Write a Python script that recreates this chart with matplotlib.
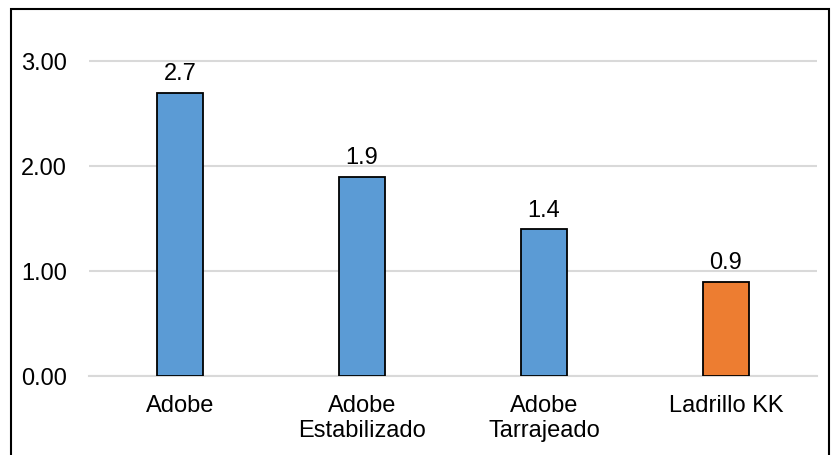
import matplotlib.pyplot as plt
from matplotlib.patches import Rectangle

plt.rcParams['font.family'] = ['Liberation Sans', 'DejaVu Sans']

materials = ['Adobe', 'Adobe\nEstabilizado', 'Adobe\nTarrajeado', 'Ladrillo KK']
values = [2.7, 1.9, 1.4, 0.9]
bar_colors = ['#5B9BD5', '#5B9BD5', '#5B9BD5', '#ED7D31']
y_ticks = [0, 1, 2, 3]

fig = plt.figure(figsize=(8.35, 4.56), dpi=100)
ax = fig.add_axes([89 / 835, 1 - 377 / 456, (817 - 89) / 835, (377 - 20) / 456])

x = range(len(materials))
bars = ax.bar(x, values, width=0.25, color=bar_colors, edgecolor='black', linewidth=1.3, zorder=3)

for b, v in zip(bars, values):
    ax.annotate(f'{v:.1f}', (b.get_x() + b.get_width() / 2, v), xytext=(0, 6),
                textcoords='offset points', ha='center', va='bottom', fontsize=17)

ax.set_xlim(-0.5, len(materials) - 0.5)
ax.set_ylim(0, 3.4)
ax.set_yticks(y_ticks)
ax.set_yticklabels([f'{t:.2f}' for t in y_ticks])
ax.set_xticks(list(x))
ax.set_xticklabels(materials, fontsize=17, linespacing=1.2)
ax.tick_params(axis='x', length=0, pad=13)
ax.tick_params(axis='y', length=0, pad=16, labelsize=17)

ax.grid(axis='y', color='#D9D9D9', linewidth=1.5, zorder=0)
for s in ['top', 'right', 'left']:
    ax.spines[s].set_visible(False)
ax.spines['bottom'].set_color('#D9D9D9')
ax.spines['bottom'].set_linewidth(1.5)

# border around the whole chart
fig.patches.append(Rectangle((11 / 835, -0.02), (829 - 11) / 835, 1 - 10 / 456 + 0.02,
                             transform=fig.transFigure, fill=False, edgecolor='black',
                             linewidth=1.5, clip_on=False))

fig.savefig('out.png', dpi=100)
